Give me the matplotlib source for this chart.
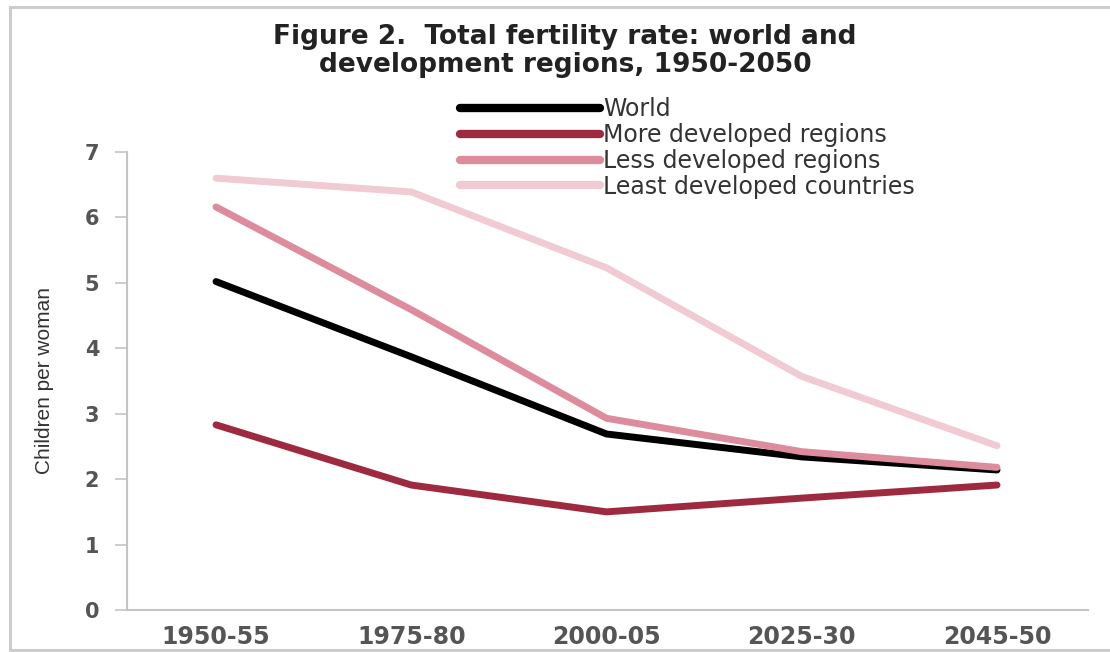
import matplotlib.pyplot as plt
from matplotlib.lines import Line2D

# data
periods = ["1950-55", "1975-80", "2000-05", "2025-30", "2045-50"]
world = [5.02, 3.87, 2.69, 2.34, 2.14]
more_dev = [2.83, 1.91, 1.50, 1.71, 1.91]
less_dev = [6.16, 4.59, 2.93, 2.42, 2.18]
least_dev = [6.60, 6.39, 5.23, 3.57, 2.51]

labels = ["World", "More developed regions", "Less developed regions",
          "Least developed countries"]
colors = ["#000000", "#9e2a40", "#dc8c9d", "#f1cbd3"]

fig = plt.figure(figsize=(11.1, 6.52), dpi=100)
ax = fig.add_axes([127 / 1110, 42 / 652, 961 / 1110, 458 / 652])

x = range(len(periods))
for vals, lab, col in zip([world, more_dev, less_dev, least_dev], labels, colors):
    ax.plot(x, vals, color=col, lw=5, solid_capstyle='round',
            solid_joinstyle='round', label=lab)

ax.set_xlim(-0.456, 4.466)
ax.set_ylim(0, 7)
ax.set_yticks(range(0, 8))
ax.set_xticks(list(x))
ax.set_xticklabels(periods)

for s in ['top', 'right']:
    ax.spines[s].set_visible(False)
for s in ['left', 'bottom']:
    ax.spines[s].set_color('#c4c4c4')
    ax.spines[s].set_linewidth(1.5)

ax.tick_params(axis='y', length=9, width=1.2, color='#c4c4c4', pad=11,
               labelsize=15, labelcolor='#555555')
ax.tick_params(axis='x', length=0, pad=11, labelsize=17, labelcolor='#555555')
for t in ax.get_xticklabels() + ax.get_yticklabels():
    t.set_fontweight('bold')

leg = ax.legend(loc='upper left', bbox_to_anchor=(460 / 1110, 1 - 97 / 652),
                bbox_transform=fig.transFigure, frameon=False, borderpad=0,
                borderaxespad=0, fontsize=17, handlelength=5.95,
                handletextpad=0.12, labelspacing=0.08, labelcolor='#333333')
for ln in leg.get_lines():
    ln.set_linewidth(6)

fig.text(565 / 1110, 1 - 51 / 652,
         "Figure 2.  Total fertility rate: world and\ndevelopment regions, 1950-2050",
         ha='center', va='center', fontsize=19, fontweight='bold',
         color='#222222', linespacing=1.06)

fig.text(45 / 1110, 1 - 380 / 652, "Children per woman", rotation=90,
         ha='center', va='center', fontsize=15, color='#333333',
         family=['Liberation Sans', 'DejaVu Sans'])

# grey frame: top, left and bottom edges
frame_kw = dict(transform=fig.transFigure, color='#cccccc', lw=2.2)
fig.lines.append(Line2D([10 / 1110, 1.0], [1 - 7 / 652] * 2, **frame_kw))
fig.lines.append(Line2D([10 / 1110] * 2, [1 - 7 / 652, 2 / 652], **frame_kw))
fig.lines.append(Line2D([10 / 1110, 1.0], [2 / 652] * 2, **frame_kw))

fig.savefig("out.png", dpi=100)
